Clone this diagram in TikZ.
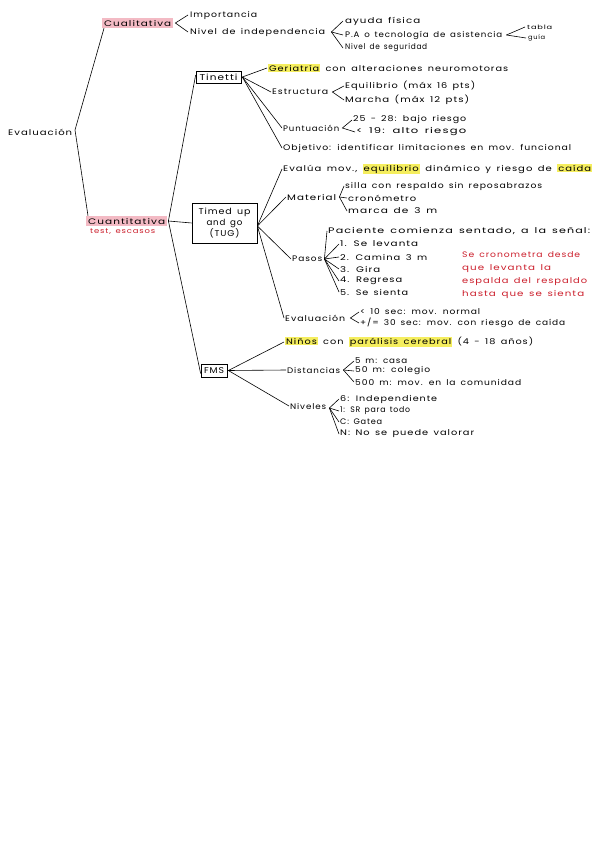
\documentclass[tikz,border=0pt]{standalone}
\usepackage{fontspec}
\usepackage{graphicx}
\setmainfont[LetterSpace=10,WordSpace=1.5]{Poppins}
\definecolor{pinkhl}{HTML}{F3BAC4}
\definecolor{yelhl}{HTML}{F5EE5E}
\definecolor{rednote}{HTML}{CC1F2C}
\newcommand\hy[1]{{\setlength{\fboxsep}{0.8pt}\colorbox{yelhl}{#1}}}
\newsavebox\fitbox
\newcommand\fitw[2]{\sbox\fitbox{#2}\scalebox{\fpeval{#1/(\the\wd\fitbox)}}[1]{\usebox\fitbox}}
\tikzset{
  t/.style={anchor=west, inner sep=0pt, font=\fontsize{8}{9}\selectfont},
  sm/.style={anchor=west, inner sep=0pt, font=\fontsize{6}{7}\selectfont},
  pk/.style={anchor=west, fill=pinkhl, inner xsep=2pt, inner ysep=2pt, font=\fontsize{8}{9}\selectfont},
  bx/.style={draw, line width=0.7pt, inner sep=1pt, font=\fontsize{8.5}{11}\selectfont},
  ln/.style={line width=0.6pt}
}
\begin{document}
\begin{tikzpicture}[x=1pt,y=-1pt]
\useasboundingbox (0,0) rectangle (600,848);
\fill[white] (0,0) rectangle (600,848);

% root
\node[t] (eval) at (8,132) {\fitw{64}{Evaluación}};
\coordinate (ev) at (75,130);

% Cualitativa
\node[pk] (cual) at (102,23) {\fitw{67}{Cualitativa}};
\coordinate (cuv) at ([xshift=2pt]cual.east);
\node[t] (imp) at (190,15) {\fitw{67}{Importancia}};
\node[t] (niv) at (190,32) {\fitw{135}{Nivel de independencia}};
\coordinate (nivv) at ([xshift=6pt]niv.east);
\node[t] (ayu) at (345,21) {\fitw{75}{ayuda física}};
\node[t] (pa) at (345,35) {\fitw{157}{P.A o tecnología de asistencia}};
\node[t] (seg) at (345,48) {\fitw{82}{Nivel de seguridad}};
\coordinate (pav) at ([xshift=4pt]pa.east);
\node[sm] (tab) at (527,27) {\fitw{25}{tabla}};
\node[sm] (gui) at (528,38) {\fitw{17}{guía}};

% Cuantitativa
\node[pk] (cuan) at (86,221) {\fitw{77}{Cuantitativa}};
\node[t,text=rednote,font=\fontsize{7}{8}\selectfont] (test) at (90,232) {\fitw{65}{test, escasos}};
\coordinate (cq) at ([xshift=1pt]cuan.east);

% Tinetti
\node[bx, minimum width=45pt, minimum height=12pt] (tin) at (218.5,77) {\fitw{38}{Tinetti}};
\coordinate (tv) at ([xshift=1pt]tin.east);
\node[t] (ger) at (268,68) {\fitw{240}{\hy{Geriatría} con alteraciones neuromotoras}};
\node[t] (est) at (272,92) {\fitw{56}{Estructura}};
\coordinate (estv) at ([xshift=4pt]est.east);
\node[t] (equ) at (345,86) {\fitw{130}{Equilibrio (máx 16 pts)}};
\node[t] (mar) at (345,100) {\fitw{124}{Marcha (máx 12 pts)}};
\node[t] (pun) at (283,128) {\fitw{56}{Puntuación}};
\coordinate (punv) at ([xshift=3pt]pun.east);
\node[t] (bajo) at (353,120) {\fitw{113}{25 - 28: bajo riesgo}};
\node[t] (alto) at (356,132) {\fitw{110}{< 19: alto riesgo}};
\node[t] (obj) at (283,148) {\fitw{288}{Objetivo: identificar limitaciones en mov. funcional}};

% TUG
\node[bx, minimum width=65pt, minimum height=40pt, align=center] (tug) at (224.5,223) {\fitw{52}{Timed up}\\\fitw{36}{and go}\\\fitw{30}{(TUG)}};
\coordinate (tgv) at ([yshift=-3pt]tug.east);
\node[t] (evm) at (283,169) {\fitw{309}{Evalúa mov., \hy{equilibrio} dinámico y riesgo de \hy{caída}}};
\node[t] (mat) at (287,197) {\fitw{49}{Material}};
\coordinate (matv) at ([xshift=3pt]mat.east);
\node[t] (sil) at (345,186) {\fitw{197}{silla con respaldo sin reposabrazos}};
\node[t] (cro) at (348,198) {\fitw{68}{cronómetro}};
\node[t] (mca) at (348,211) {\fitw{89}{marca de 3 m}};
\node[t] (pas) at (292,259) {\fitw{30}{Pasos}};
\coordinate (pasv) at ([xshift=2pt]pas.east);
\node[t] (pac) at (328,231) {\fitw{262}{Paciente comienza sentado, a la señal:}};
\node[t] (p1) at (340,244) {\fitw{78}{1. Se levanta}};
\node[t] (p2) at (340,257) {\fitw{87}{2. Camina 3 m}};
\node[t] (p3) at (340,269) {\fitw{40}{3. Gira}};
\node[t] (p4) at (340,281) {\fitw{62}{4. Regresa}};
\node[t] (p5) at (340,292) {\fitw{68}{5. Se sienta}};
\node[t, text=rednote, align=left, font=\fontsize{8}{13}\selectfont] (note) at (462,275.5) {\fitw{118}{Se cronometra desde}\\\fitw{89}{que levanta la}\\\fitw{125}{espalda del respaldo}\\\fitw{122}{hasta que se sienta}};
\node[t] (evl) at (285,318) {\fitw{60}{Evaluación}};
\coordinate (evlv) at ([xshift=5pt]evl.east);
\node[t] (e10) at (360,312) {\fitw{120}{< 10 sec: mov. normal}};
\node[t] (e30) at (360,323) {\fitw{205}{+/= 30 sec: mov. con riesgo de caída}};

% FMS
\node[bx, minimum width=26pt, minimum height=13pt] (fms) at (214,370.5) {\fitw{20}{FMS}};
\coordinate (fv) at ([xshift=1pt]fms.east);
\node[t] (nin) at (285,342) {\fitw{248}{\hy{Niños} con \hy{parálisis cerebral} (4 - 18 años)}};
\node[t] (dis) at (287,370) {\fitw{53}{Distancias}};
\coordinate (disv) at ([xshift=3pt]dis.east);
\node[t] (d5) at (355,361) {\fitw{52}{5 m: casa}};
\node[t] (d50) at (355,371) {\fitw{75}{50 m: colegio}};
\node[t] (d500) at (355,382) {\fitw{166}{500 m: mov. en la comunidad}};
\node[t] (nvl) at (290,406) {\fitw{36}{Niveles}};
\coordinate (nvlv) at ([xshift=3pt,yshift=-2pt]nvl.east);
\node[t] (n6) at (340,399) {\fitw{97}{6: Independiente}};
\node[t] (n1) at (340,411) {\fitw{70}{1: SR para todo}};
\node[t] (nc) at (340,422) {\fitw{42}{C: Gatea}};
\node[t] (nn) at (340,434) {\fitw{134}{N: No se puede valorar}};

% connectors
\draw[ln] ([xshift=2pt]cual.south west) -- (ev) -- ([xshift=2pt]cuan.north west);
\draw[ln] ([xshift=-2pt]imp.west) -- (cuv) -- ([xshift=-2pt]niv.west);
\draw[ln] (nivv) -- ([xshift=-2pt]ayu.west);
\draw[ln] (nivv) -- ([xshift=-2pt]pa.west);
\draw[ln] (nivv) -- ([xshift=-2pt]seg.west);
\draw[ln] (pav) -- ([xshift=-2pt]tab.west);
\draw[ln] (pav) -- ([xshift=-2pt]gui.west);

\draw[ln] (cq) -- ([yshift=2pt]tin.west);
\draw[ln] (cq) -- (tug.west);
\draw[ln] (cq) -- ([yshift=-3pt]fms.west);

\draw[ln] (tv) -- ([xshift=-1pt]ger.west);
\draw[ln] (tv) -- ([xshift=-1pt]est.west);
\draw[ln] (tv) -- ([xshift=-1pt]pun.west);
\draw[ln] (tv) -- ([xshift=-1pt]obj.west);
\draw[ln] ([xshift=-1pt]equ.west) -- (estv) -- ([xshift=-1pt]mar.west);
\draw[ln] ([xshift=-1pt]bajo.west) -- (punv) -- ([xshift=-1pt]alto.west);

\draw[ln] (tgv) -- ([xshift=-1pt]evm.west);
\draw[ln] (tgv) -- ([xshift=-1pt]mat.west);
\draw[ln] (tgv) -- ([xshift=-1pt]pas.west);
\draw[ln] (tgv) -- ([xshift=-1pt]evl.west);
\draw[ln] (matv) -- ([xshift=-1pt]sil.west);
\draw[ln] (matv) -- ([xshift=-1pt]cro.west);
\draw[ln] (matv) -- ([xshift=-1pt]mca.west);
\foreach \n in {pac,p1,p2,p3,p4,p5} \draw[ln] (pasv) -- ([xshift=-1pt]\n.west);
\draw[ln] ([xshift=-1pt]e10.west) -- (evlv) -- ([xshift=-1pt]e30.west);

\draw[ln] (fv) -- ([xshift=-1pt]nin.west);
\draw[ln] (fv) -- ([xshift=-1pt]dis.west);
\draw[ln] (fv) -- ([xshift=-1pt]nvl.west);
\foreach \n in {d5,d50,d500} \draw[ln] (disv) -- ([xshift=-1pt]\n.west);
\foreach \n in {n6,n1,nc,nn} \draw[ln] (nvlv) -- ([xshift=-1pt]\n.west);
\end{tikzpicture}
\end{document}
